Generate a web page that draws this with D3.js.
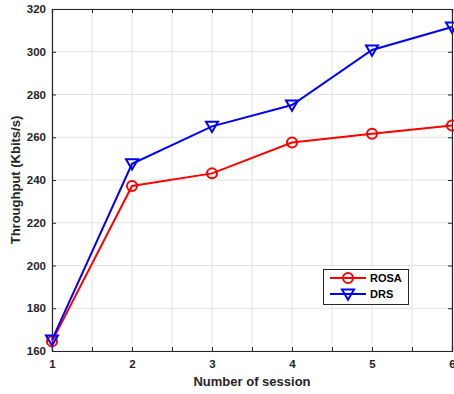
<!DOCTYPE html>
<html>
<head>
<meta charset="utf-8">
<script src="https://d3js.org/d3.v7.min.js"></script>
<style>
  html, body { margin: 0; padding: 0; background: #fff; }
  text { font-family: "Liberation Sans", Arial, Helvetica, sans-serif; font-weight: bold; }
</style>
</head>
<body>
<script>
// Throughput per number of sessions
const sessions = [1, 2, 3, 4, 5, 6];
const rosa = [164.5, 237.2, 243.1, 257.5, 261.6, 265.5];
const drs  = [165.2, 247.6, 265.1, 275.1, 300.8, 311.6];
const yTicks = [160, 180, 200, 220, 240, 260, 280, 300, 320];
const xTicks = [1, 2, 3, 4, 5, 6];
const xMinor = [1.5, 2.5, 3.5, 4.5, 5.5];

const W = 454, H = 394;
const plotL = 52, plotR = 452, plotT = 9, plotB = 351;

const svg = d3.select("body").append("svg").attr("width", W).attr("height", H);

const x = d3.scaleLinear().domain([1, 6]).range([plotL, plotR]);
const y = d3.scaleLinear().domain([160, 320]).range([plotB, plotT]);

// grid
const gridX = xTicks.concat(xMinor).sort((a, b) => a - b);
svg.append("g").selectAll("line").data(gridX).join("line")
  .attr("x1", d => x(d)).attr("x2", d => x(d))
  .attr("y1", plotT).attr("y2", plotB)
  .attr("stroke", "#e3e3e3").attr("stroke-width", 1);
svg.append("g").selectAll("line").data(yTicks).join("line")
  .attr("x1", plotL).attr("x2", plotR)
  .attr("y1", d => y(d)).attr("y2", d => y(d))
  .attr("stroke", "#e3e3e3").attr("stroke-width", 1);

// axes with inward ticks
const axisColor = "#262626";
const tickLen = 4;
const gBottom = svg.append("g").attr("transform", `translate(0,${plotB})`)
  .call(d3.axisBottom(x).tickValues(gridX)
    .tickSize(-tickLen).tickPadding(9)
    .tickFormat(d => Number.isInteger(d) ? d : ""));
const gTop = svg.append("g").attr("transform", `translate(0,${plotT})`)
  .call(d3.axisTop(x).tickValues(gridX).tickSize(-tickLen).tickFormat(""));
const gLeft = svg.append("g").attr("transform", `translate(${plotL},0)`)
  .call(d3.axisLeft(y).tickValues(yTicks).tickSize(-tickLen).tickPadding(6));
const gRight = svg.append("g").attr("transform", `translate(${plotR},0)`)
  .call(d3.axisRight(y).tickValues(yTicks).tickSize(-tickLen).tickFormat(""));

[gBottom, gTop, gLeft, gRight].forEach(g => {
  g.select(".domain").attr("stroke", axisColor).attr("stroke-width", 1.2);
  g.selectAll(".tick line").attr("stroke", axisColor).attr("stroke-width", 1);
  g.selectAll(".tick text").attr("fill", "#262626")
    .style("font-size", "11.5px").style("font-family", "Liberation Sans, Arial, sans-serif")
    .style("font-weight", "bold");
});

// axis labels
svg.append("text").attr("x", (plotL + plotR) / 2).attr("y", 386)
  .attr("text-anchor", "middle").attr("fill", "#262626")
  .style("font-size", "13px").text("Number of session");
svg.append("text")
  .attr("transform", `translate(20,${(plotT + plotB) / 2}) rotate(-90)`)
  .attr("text-anchor", "middle").attr("fill", "#262626")
  .style("font-size", "13px").text("Throughput (Kbits/s)");

// series
const line = d3.line().x((d, i) => x(sessions[i])).y(d => y(d));
const triPath = s => `M${-s},${-s * 0.75}L${s},${-s * 0.75}L0,${s * 0.95}Z`;

function drawSeries(vals, color, marker) {
  const g = svg.append("g");
  g.append("path").datum(vals).attr("d", line)
    .attr("fill", "none").attr("stroke", color).attr("stroke-width", 2);
  if (marker === "circle") {
    g.selectAll("circle").data(vals).join("circle")
      .attr("cx", (d, i) => x(sessions[i])).attr("cy", d => y(d)).attr("r", 5)
      .attr("fill", "none").attr("stroke", color).attr("stroke-width", 2);
  } else {
    g.selectAll("path.m").data(vals).join("path").attr("class", "m")
      .attr("transform", (d, i) => `translate(${x(sessions[i])},${y(d)})`)
      .attr("d", triPath(6))
      .attr("fill", "none").attr("stroke", color).attr("stroke-width", 2);
  }
}
drawSeries(rosa, "#ff0000", "circle");
drawSeries(drs, "#0000ff", "tri");

// legend
const lg = svg.append("g");
lg.append("rect").attr("x", 323.5).attr("y", 269.5).attr("width", 85).attr("height", 35)
  .attr("fill", "#fff").attr("stroke", "#262626").attr("stroke-width", 1);
const entries = [
  { name: "ROSA", color: "#ff0000", marker: "circle", yy: 278 },
  { name: "DRS", color: "#0000ff", marker: "tri", yy: 294 }
];
entries.forEach(e => {
  lg.append("line").attr("x1", 330).attr("x2", 366).attr("y1", e.yy).attr("y2", e.yy)
    .attr("stroke", e.color).attr("stroke-width", 2);
  if (e.marker === "circle") {
    lg.append("circle").attr("cx", 348).attr("cy", e.yy).attr("r", 5)
      .attr("fill", "none").attr("stroke", e.color).attr("stroke-width", 2);
  } else {
    lg.append("path").attr("transform", `translate(348,${e.yy})`).attr("d", triPath(6))
      .attr("fill", "none").attr("stroke", e.color).attr("stroke-width", 2);
  }
  lg.append("text").attr("x", 370).attr("y", e.yy + 4).attr("fill", "#000")
    .style("font-size", "11px").text(e.name);
});
</script>
</body>
</html>
